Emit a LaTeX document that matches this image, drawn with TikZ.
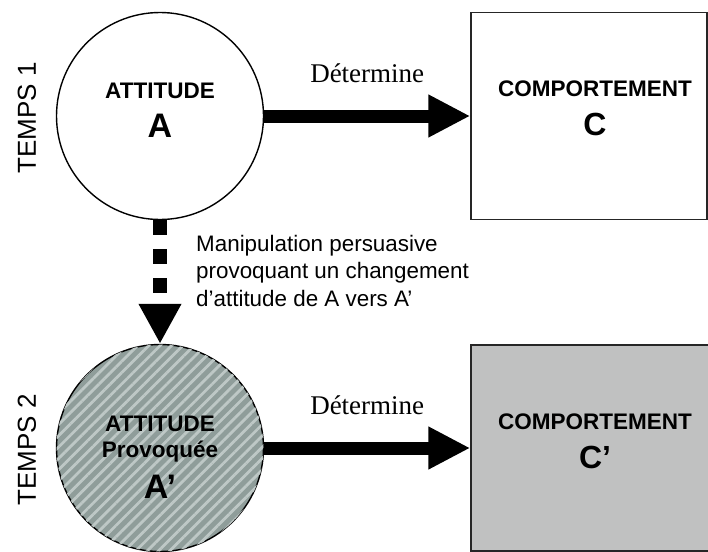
\documentclass[tikz,border=0pt]{standalone}
\usepackage{fontspec}
\setmainfont{Liberation Serif}
\setsansfont{Liberation Sans}
\usetikzlibrary{positioning,arrows.meta,patterns.meta}

\definecolor{hatchgray}{RGB}{143,157,154}
\definecolor{stripegray}{RGB}{190,200,198}
\definecolor{boxgray}{RGB}{192,193,193}

\begin{document}
\begin{tikzpicture}[x=1pt,y=-1pt,
                       att node/.style={circle,draw,line width=1.4pt,inner sep=0pt,
                                        minimum size=207pt},
                       comp node/.style={rectangle,draw=black!85,line width=1.5pt,inner sep=0pt},
                       word/.style={font=\sffamily\bfseries\fontsize{22.5}{24}\selectfont,
                                    inner sep=0pt,anchor=base},
                       letter/.style={font=\sffamily\bfseries\fontsize{34}{36}\selectfont,
                                      inner sep=0pt,anchor=base},
                       time/.style={font=\sffamily\fontsize{26}{28}\selectfont,rotate=90,
                                    inner sep=0pt},
                       big arrow/.style={line width=13pt,-{Triangle[length=42pt,width=40pt]}},
                       dash arrow/.style={line width=14pt,dash pattern=on 15pt off 14pt,
                                          -{Triangle[length=40pt,width=40pt]}},
                       verb/.style={font=\fontsize{27}{29}\selectfont,inner sep=0pt,
                                    above=27pt,midway}
                      ]
   \useasboundingbox (0,0) rectangle (708,551);

   \node[att node] (a) at (160,116) {};
   \node[att node,fill=hatchgray,
         postaction={pattern={Lines[angle=45,distance=8pt,line width=2.8pt]},
                     pattern color=stripegray}] (a2) at (160,448) {};
   \node[comp node,minimum width=236pt,minimum height=207pt] (c) at (589,116) {};
   \node[comp node,fill=boxgray,minimum width=241pt,minimum height=206pt] (c2) at (591.5,448) {};

   \node[word] (aw) at (160,98) {ATTITUDE};
   \node[letter] (al) at (160,137) {A};
   \node[word] (a2w) at (160,431) {ATTITUDE};
   \node[word] (a2p) at (160,457) {Provoquée};
   \node[letter] (a2l) at (160,498) {A’};
   \node[word] (cw) at (595,96) {COMPORTEMENT};
   \node[letter,font=\sffamily\bfseries\fontsize{32}{34}\selectfont] (cl) at (595,135) {C};
   \node[word] (c2w) at (595,429) {COMPORTEMENT};
   \node[letter,font=\sffamily\bfseries\fontsize{32}{34}\selectfont] (c2l) at (595,468) {C’};

   \node[time] (t1) at (27,118) {TEMPS 1};
   \node[time] (t2) at (27,450) {TEMPS 2};

   \node[font=\sffamily\fontsize{22.4}{27.5}\selectfont,align=left,anchor=north west,
         inner sep=0pt] (manip) at (196,235)
        {Manipulation persuasive\\provoquant un changement\\d’attitude de A vers A’};

   \path%
    (a) edge [big arrow] node[verb] (v1) {Détermine} (c)
    (a2) edge [big arrow] node[verb] (v2) {Détermine} (c2)
    (a) edge [dash arrow] (a2);
  \end{tikzpicture}
\end{document}
